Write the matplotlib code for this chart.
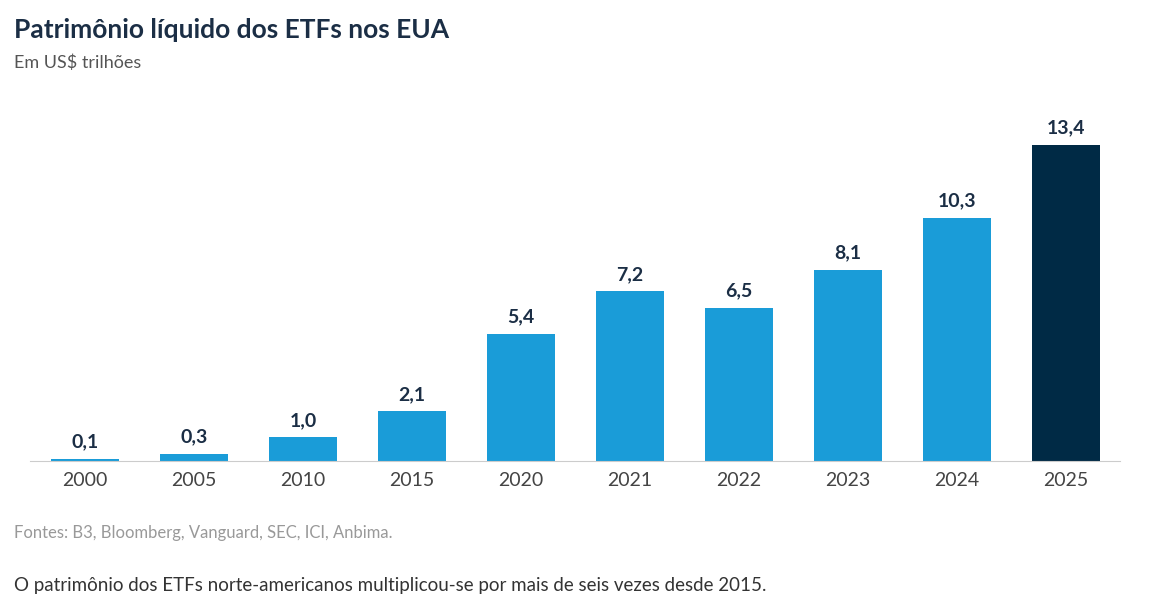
import matplotlib.pyplot as plt
import numpy as np

anos = ["2000", "2005", "2010", "2015", "2020", "2021", "2022", "2023", "2024", "2025"]
valores = [0.1, 0.3, 1.0, 2.1, 5.4, 7.2, 6.5, 8.1, 10.3, 13.4]
rotulos = ["0,1", "0,3", "1,0", "2,1", "5,4", "7,2", "6,5", "8,1", "10,3", "13,4"]

plt.rcParams['font.family'] = ['Lato', 'DejaVu Sans']

fig = plt.figure(figsize=(11.5, 6.15), dpi=100)
ax = fig.add_axes([30 / 1150, 1 - 461 / 615, 1090 / 1150, 361 / 615])

x_pos = np.arange(len(anos))
cores = ["#1a9cd8"] * (len(anos) - 1) + ["#002a45"]
bars = ax.bar(x_pos, valores, width=0.62, color=cores)

for rect, txt in zip(bars, rotulos):
    ax.text(rect.get_x() + rect.get_width() / 2, rect.get_height() + 0.35, txt,
            ha="center", va="bottom", fontsize=14, fontweight="bold", color="#1b2e45")

ax.set_xlim(-0.505, 9.495)
ax.set_ylim(0, 15.3)
ax.set_xticks(x_pos)
ax.set_xticklabels(anos, fontsize=14, color="#444444")
ax.tick_params(axis="x", length=0, pad=8)
ax.set_yticks([])
for s in ["top", "right", "left"]:
    ax.spines[s].set_visible(False)
ax.spines["bottom"].set_color("#cccccc")

fig.text(14 / 1150, 1 - 30 / 615, "Patrimônio líquido dos ETFs nos EUA", fontsize=19,
         fontweight="bold", color="#1b2e45", va="center")
fig.text(14 / 1150, 1 - 63 / 615, "Em US$ trilhões", fontsize=13, color="#555555", va="center")
fig.text(14 / 1150, 1 - 533 / 615, "Fontes: B3, Bloomberg, Vanguard, SEC, ICI, Anbima.",
         fontsize=12, color="#999999", va="center")
fig.text(14 / 1150, 1 - 586 / 615,
         "O patrimônio dos ETFs norte-americanos multiplicou-se por mais de seis vezes desde 2015.",
         fontsize=13.5, color="#333333", va="center")

fig.savefig("out.png", dpi=100)
